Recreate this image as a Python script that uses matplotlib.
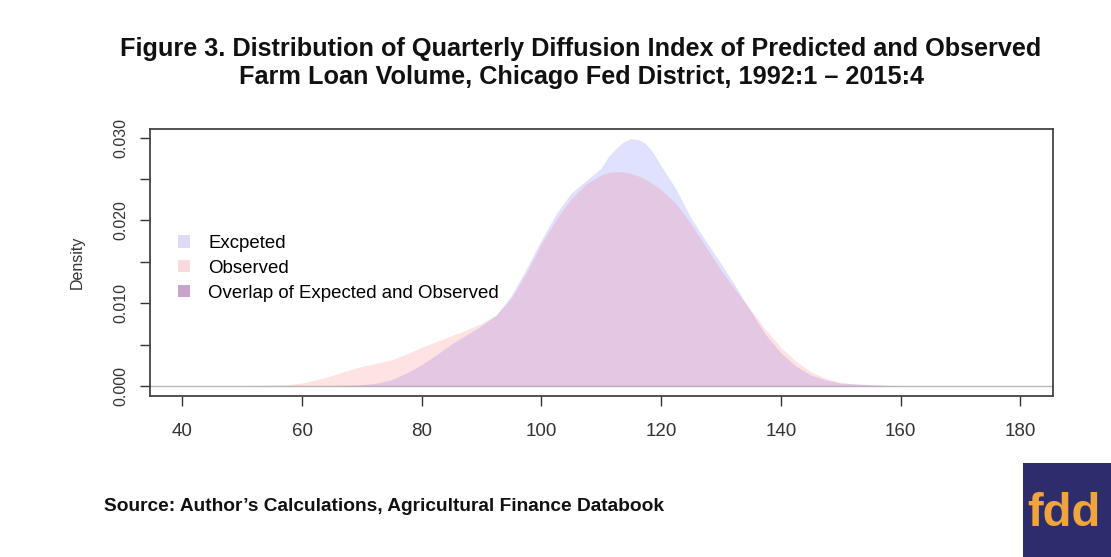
import matplotlib
matplotlib.use("Agg")
import matplotlib.pyplot as plt
from matplotlib.patches import Patch, Rectangle

plt.rcParams['font.family'] = ['Liberation Sans', 'DejaVu Sans']

# Density readings (diffusion index vs density)
obs_x = [50, 52.5, 55, 57.5, 60, 62.5, 65, 67.5, 70, 72.5, 75, 77.5, 80, 82.5, 85, 87.5,
         90, 92.5, 95, 97.5, 100, 102.5, 105, 107.5, 110, 111.25, 112.5, 113.75, 115, 116.25,
         117.5, 120, 122.5, 125, 127.5, 130, 132.5, 135, 137.5, 140, 142.5, 145, 147.5, 150,
         152.5, 155, 157.5, 160]
obs_y = [0.0, 0.00002, 0.00005, 0.0001, 0.0003, 0.0007, 0.0012, 0.0018, 0.0023, 0.0027,
         0.0031, 0.0038, 0.0046, 0.0053, 0.0060, 0.0067, 0.0075, 0.0085, 0.0105, 0.0135,
         0.0170, 0.0200, 0.0225, 0.0243, 0.0254, 0.0257, 0.0258, 0.0258, 0.0256, 0.0253,
         0.0249, 0.0237, 0.0220, 0.0196, 0.0168, 0.0140, 0.0115, 0.0092, 0.0068, 0.0047,
         0.0030, 0.0017, 0.0009, 0.0004, 0.0002, 0.0001, 0.00003, 0.0]

exp_x = [65, 67.5, 70, 72.5, 75, 77.5, 80, 82.5, 85, 87.5, 90, 92.5, 95, 97.5, 100, 102.5,
         105, 107.5, 110, 111.25, 112.5, 113.75, 115, 116.25, 117.5, 118.75, 120, 122.5, 125,
         127.5, 130, 132.5, 135, 137.5, 140, 142.5, 145, 147.5, 150, 152.5, 155, 157.5, 160]
exp_y = [0.0, 0.00003, 0.0001, 0.0003, 0.0007, 0.0015, 0.0025, 0.0037, 0.0050, 0.0061,
         0.0072, 0.0085, 0.0108, 0.0140, 0.0175, 0.0207, 0.0232, 0.0247, 0.0262, 0.0276,
         0.0286, 0.0294, 0.0298, 0.0297, 0.0292, 0.0281, 0.0266, 0.0238, 0.0203, 0.0175,
         0.0148, 0.0120, 0.0090, 0.0062, 0.0040, 0.0024, 0.0013, 0.0007, 0.0003, 0.0002,
         0.0001, 0.00004, 0.0]

x_ticks = [40, 60, 80, 100, 120, 140, 160, 180]
y_ticks = [0.000, 0.005, 0.010, 0.015, 0.020, 0.025, 0.030]
y_labels = ['0.000', '', '0.010', '', '0.020', '', '0.030']
legend_labels = ['Excpeted', 'Observed', 'Overlap of Expected and Observed']

title = ("Figure 3. Distribution of Quarterly Diffusion Index of Predicted and Observed\n"
         "Farm Loan Volume, Chicago Fed District, 1992:1 \u2013 2015:4")
source = "Source: Author\u2019s Calculations, Agricultural Finance Databook"

fig = plt.figure(figsize=(11.11, 5.57), dpi=100)
fig.patch.set_facecolor('white')
ax = fig.add_axes([0.135, 0.289, 0.813, 0.479])

ax.axhline(0, color='#b8b8b8', lw=1.0, zorder=1)
ax.fill_between(exp_x, exp_y, 0, facecolor=(0.0, 0.0, 1.0, 0.12), edgecolor='none', zorder=2)
ax.fill_between(obs_x, obs_y, 0, facecolor=(1.0, 0.0, 0.0, 0.11), edgecolor='none', zorder=3)

ax.set_xlim(34.6, 185.5)
ax.set_ylim(-0.0012, 0.0310)
ax.set_xticks(x_ticks)
ax.set_xticklabels([str(v) for v in x_ticks])
ax.set_yticks(y_ticks)
ax.set_yticklabels(y_labels, rotation=90, va='center')
ax.tick_params(axis='both', direction='out', length=7.2, width=1.0, color='#333333',
               labelcolor='#333333')
ax.tick_params(axis='x', pad=12, labelsize=13.5)
ax.tick_params(axis='y', pad=8, labelsize=11.5)
for s in ax.spines.values():
    s.set_color('#444444')
    s.set_linewidth(1.3)
ax.set_ylabel('Density', fontsize=11.5, color='#333333', labelpad=21)

handles = [Patch(facecolor='#dcdcf6', edgecolor='none'),
           Patch(facecolor='#f8dadd', edgecolor='none'),
           Patch(facecolor='#c9a3c9', edgecolor='none')]
ax.legend(handles, legend_labels, loc='center left', bbox_to_anchor=(0.023, 0.479),
          frameon=False, fontsize=13.4, handlelength=0.65, handleheight=0.65,
          handletextpad=0.97, labelspacing=0.42, borderaxespad=0)

fig.text(0.523, 0.887, title, ha='center', va='center', fontsize=18.2, fontweight='bold',
         color='#111111', linespacing=1.25)
fig.text(0.094, 0.091, source, ha='left', va='center', fontsize=13.8, fontweight='bold',
         color='#111111')

# logo
fig.patches.append(Rectangle((1023 / 1111, 0), 88 / 1111, 94 / 557, transform=fig.transFigure,
                             facecolor='#2e2d6b', edgecolor='none'))
fig.text(1027 / 1111, 43 / 557, 'fdd', ha='left', va='center', fontsize=34, fontweight='bold',
         color='#f2a43c', clip_on=True)

fig.savefig('out.png', dpi=100)
